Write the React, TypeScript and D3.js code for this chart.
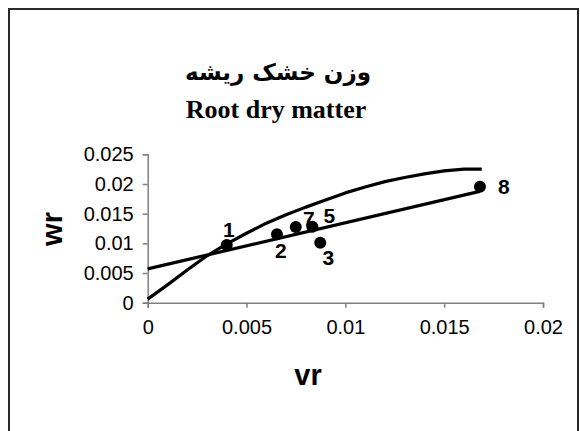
import * as d3 from 'd3'
import { useEffect, useRef } from 'react'

// points (vr, wr) with their numbers
const pointLabels = ['1', '2', '3', '5', '7', '8']
const vrValues = [0.004, 0.00654, 0.00873, 0.00833, 0.00749, 0.01681]
const wrValues = [0.00972, 0.01152, 0.0101, 0.0128, 0.01275, 0.01954]

// fitted straight line, end points
const lineVr = [0, 0.0168]
const lineWr = [0.0057, 0.01875]

// fitted curve, read every 0.001
const curveVr = [0, 0.001, 0.002, 0.003, 0.004, 0.005, 0.006, 0.007, 0.008, 0.009, 0.01, 0.011, 0.012, 0.013, 0.014, 0.015, 0.016, 0.0169]
const curveWr = [0.0006, 0.003, 0.0055, 0.0079, 0.0099, 0.0117, 0.0134, 0.0148, 0.0161, 0.0173, 0.0185, 0.0195, 0.0204, 0.0211, 0.0217, 0.0222, 0.0225, 0.0225]

const xTicks = [0, 0.005, 0.01, 0.015, 0.02]
const yTicks = [0, 0.005, 0.01, 0.015, 0.02, 0.025]

const titleFa = 'وزن خشک ریشه'
const titleEn = 'Root dry matter'
const xTitle = 'vr'
const yTitle = 'wr'

export default function App() {
  const ref = useRef<SVGSVGElement>(null)
  useEffect(() => {
    const el = ref.current
    if (!el) return
    const svg = d3.select(el)
    svg.selectAll('*').remove()

    const sans = 'Arial, "Liberation Sans", sans-serif'
    const x = d3.scaleLinear().domain([0, 0.02]).range([147.7, 543])
    const y = d3.scaleLinear().domain([0, 0.025]).range([302.7, 154.3])

    svg.append('rect').attr('width', 580).attr('height', 431).attr('fill', '#fff')
    svg.append('rect')
      .attr('x', 9).attr('y', 9).attr('width', 569).attr('height', 450)
      .attr('fill', 'none').attr('stroke', '#2a2a2a').attr('stroke-width', 2)

    // titles
    svg.append('text')
      .attr('x', 278).attr('y', 80).attr('text-anchor', 'middle')
      .attr('font-family', '"DejaVu Sans", sans-serif').attr('font-weight', 'bold').attr('font-size', 23)
      .attr('direction', 'rtl')
      .text(titleFa)
    svg.append('text')
      .attr('x', 276).attr('y', 118).attr('text-anchor', 'middle')
      .attr('font-family', '"Times New Roman", "Liberation Serif", serif').attr('font-weight', 'bold').attr('font-size', 26)
      .text(titleEn)

    // axes
    const xAxis = svg.append('g').attr('transform', `translate(0,${y(0)})`)
      .call(d3.axisBottom(x).tickValues(xTicks).tickSize(5).tickPadding(8).tickFormat((d) => String(d)))
    const yAxis = svg.append('g').attr('transform', `translate(${x(0)},0)`)
      .call(d3.axisLeft(y).tickValues(yTicks).tickSize(5).tickPadding(9).tickFormat((d) => String(d)))
    for (const ax of [xAxis, yAxis]) {
      ax.select('.domain').attr('stroke', '#808080').attr('stroke-width', 1.5)
      ax.selectAll('.tick line').attr('stroke', '#808080').attr('stroke-width', 1.5)
      ax.selectAll('.tick text').attr('fill', '#000').attr('font-family', sans).attr('font-size', 20)
    }
    xAxis.selectAll('.tick text').attr('dy', '0.9em')

    svg.append('text')
      .attr('x', 308).attr('y', 385).attr('text-anchor', 'middle')
      .attr('font-family', sans).attr('font-weight', 'bold').attr('font-size', 29)
      .text(xTitle)
    svg.append('text')
      .attr('transform', 'translate(62,229) rotate(-90)').attr('text-anchor', 'middle')
      .attr('font-family', sans).attr('font-weight', 'bold').attr('font-size', 29)
      .text(yTitle)

    // curve
    svg.append('path')
      .attr('d', d3.line<number>().x((_, i) => x(curveVr[i])).y((d) => y(d))(curveWr))
      .attr('fill', 'none').attr('stroke', '#000').attr('stroke-width', 3.2).attr('stroke-linejoin', 'round')

    // straight line
    svg.append('path')
      .attr('d', d3.line<number>().x((d) => x(d)).y((_, i) => y(lineWr[i]))(lineVr))
      .attr('fill', 'none').attr('stroke', '#000').attr('stroke-width', 3.2)

    // points
    svg.append('g').selectAll('circle').data(vrValues).join('circle')
      .attr('cx', (d) => x(d)).attr('cy', (_, i) => y(wrValues[i])).attr('r', 6).attr('fill', '#000')

    const offsets: Record<string, [number, number]> = {
      '1': [2, -16], '2': [4, 16], '3': [8, 15], '5': [17, -11], '7': [13, -9], '8': [24, 0],
    }
    svg.append('g').selectAll('text').data(pointLabels).join('text')
      .attr('x', (d, i) => x(vrValues[i]) + offsets[d][0])
      .attr('y', (d, i) => y(wrValues[i]) + offsets[d][1])
      .attr('dy', '0.36em').attr('text-anchor', 'middle')
      .attr('font-family', sans).attr('font-weight', 'bold').attr('font-size', 21)
      .text((d) => d)
  }, [])
  return <svg ref={ref} width={580} height={431} style={{ position: 'absolute', left: 0, top: 0 }} />
}
